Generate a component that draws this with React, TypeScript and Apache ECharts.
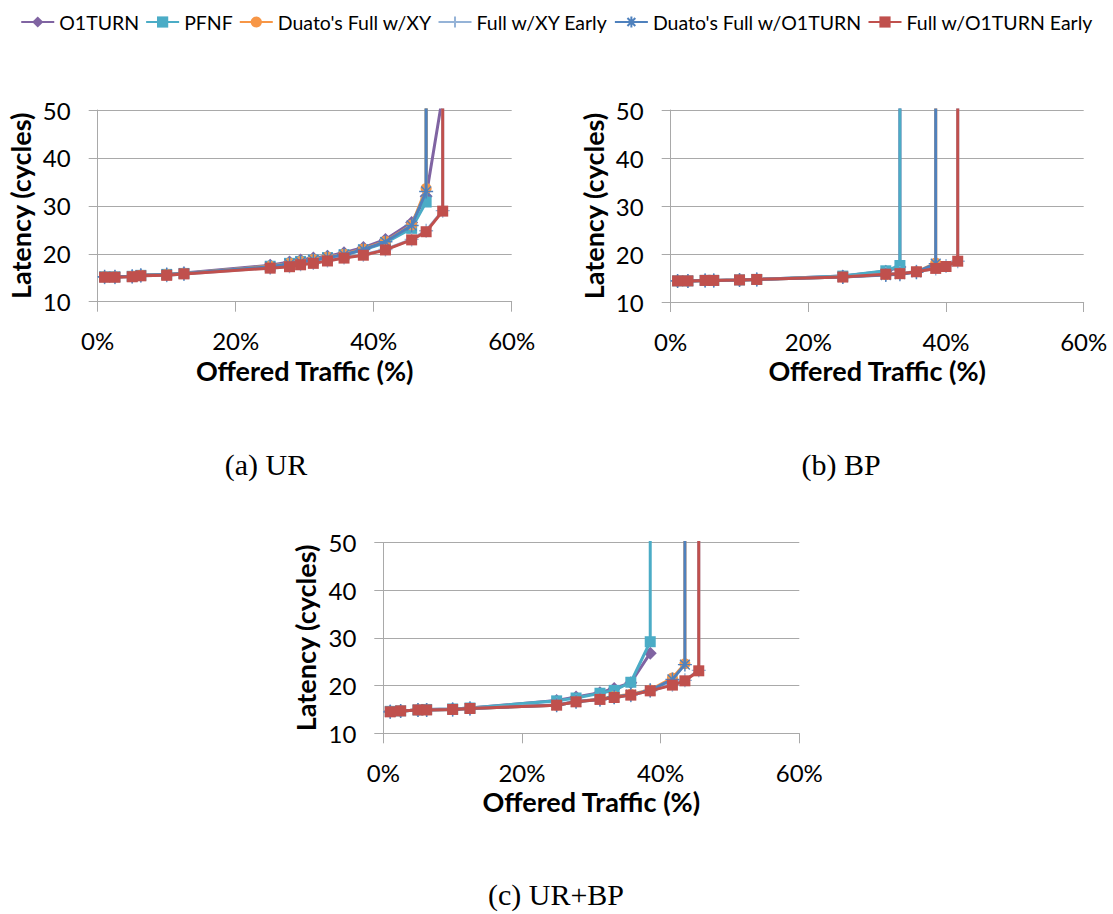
import React, { useEffect, useRef } from "react";
import * as echarts from "echarts";

// ---------- DATA ----------
const SERIES_NAMES = [
  "O1TURN",
  "PFNF",
  "Duato's Full w/XY",
  "Full w/XY Early",
  "Duato's Full w/O1TURN",
  "Full w/O1TURN Early",
];

const X_TICKS = [0, 20, 40, 60];
const Y_TICKS = [10, 20, 30, 40, 50];
const SATURATED_LATENCY = 1000; // latency beyond the plot (vertical rise)

// (a) UR
const X_UR = [1, 2.5, 5, 6.25, 10, 12.5, 25, 27.8, 29.4, 31.25, 33.3, 35.7, 38.5, 41.7, 45.5, 47.6, 50];
const UR_O1TURN = [15.2, 15.2, 15.3, 15.5, 15.7, 16.0, 17.6, 18.3, 18.7, 19.1, 19.5, 20.2, 21.3, 23.0, 26.5, 32.0, 53];
const UR_PFNF = [15.2, 15.2, 15.3, 15.5, 15.7, 15.9, 17.4, 18.0, 18.4, 18.7, 19.2, 19.8, 20.8, 22.3, 25.3, 30.8, null];
const UR_DUATO_XY = [15.2, 15.2, 15.3, 15.5, 15.7, 15.9, 17.4, 18.0, 18.4, 18.8, 19.3, 19.9, 21.0, 22.6, 26.0, 33.6, null];
const UR_XY_EARLY = [15.1, 15.1, 15.2, 15.4, 15.5, 15.8, 17.1, 17.4, 17.8, 18.1, 18.6, 19.2, 19.8, 20.9, 23.0, 24.8, 29.0];
const UR_DUATO_O1 = [15.2, 15.2, 15.3, 15.5, 15.7, 15.9, 17.3, 17.9, 18.3, 18.7, 19.2, 19.8, 20.9, 22.5, 25.9, 33.0, null];
const UR_O1_EARLY = [15.1, 15.1, 15.2, 15.4, 15.5, 15.8, 17.0, 17.3, 17.7, 18.0, 18.5, 19.1, 19.7, 20.8, 22.9, 24.6, 28.9];
const UR_SATURATION = [null, 47.6, 47.6, 50, 47.6, 50];

// (b) BP
const X_BP = [1, 2.5, 5, 6.25, 10, 12.5, 25, 31.25, 33.3, 35.7, 38.5, 40, 41.7];
const BP_O1TURN = [14.4, 14.4, 14.5, 14.5, 14.6, 14.7, 15.4, 16.4, 17.3, null, null, null, null];
const BP_PFNF = [14.4, 14.4, 14.5, 14.5, 14.6, 14.7, 15.4, 16.5, 17.6, null, null, null, null];
const BP_DUATO_XY = [14.4, 14.4, 14.5, 14.5, 14.6, 14.7, 15.2, 15.7, 15.9, 16.3, 18.1, null, null];
const BP_XY_EARLY = [14.4, 14.4, 14.5, 14.5, 14.6, 14.7, 15.2, 15.8, 16.0, 16.3, 17.0, 17.5, 18.5];
const BP_DUATO_O1 = [14.4, 14.4, 14.5, 14.5, 14.6, 14.7, 15.2, 15.6, 15.8, 16.2, 18.0, null, null];
const BP_O1_EARLY = [14.4, 14.4, 14.5, 14.5, 14.6, 14.7, 15.2, 15.8, 15.9, 16.3, 17.0, 17.4, 18.5];
const BP_SATURATION = [33.3, 33.3, 38.5, 41.7, 38.5, 41.7];

// (c) UR+BP
const X_UB = [1, 2.5, 5, 6.25, 10, 12.5, 25, 27.8, 31.25, 33.3, 35.7, 38.5, 41.7, 43.5, 45.5];
const UB_O1TURN = [14.6, 14.7, 14.9, 15.0, 15.1, 15.3, 16.9, 17.6, 18.5, 19.4, 20.6, 26.8, null, null, null];
const UB_PFNF = [14.6, 14.7, 14.9, 15.0, 15.1, 15.3, 16.8, 17.4, 18.4, 19.0, 20.7, 29.2, null, null, null];
const UB_DUATO_XY = [14.5, 14.7, 14.9, 14.9, 15.0, 15.2, 15.9, 16.6, 17.2, 17.7, 18.2, 19.1, 21.6, 24.6, null];
const UB_XY_EARLY = [14.5, 14.7, 14.9, 14.9, 15.0, 15.2, 16.0, 16.7, 17.1, 17.5, 18.0, 18.9, 20.2, 21.1, 23.2];
const UB_DUATO_O1 = [14.5, 14.7, 14.9, 14.9, 15.0, 15.2, 15.9, 16.6, 17.1, 17.6, 18.1, 19.0, 21.3, 24.4, null];
const UB_O1_EARLY = [14.5, 14.7, 14.9, 14.9, 15.0, 15.2, 15.9, 16.6, 17.1, 17.5, 18.0, 18.9, 20.1, 21.0, 23.1];
const UB_SATURATION = [null, 38.5, 43.5, 45.5, 43.5, 45.5];

const PANELS = [
  { caption: "(a) UR", x: X_UR, ys: [UR_O1TURN, UR_PFNF, UR_DUATO_XY, UR_XY_EARLY, UR_DUATO_O1, UR_O1_EARLY], sat: UR_SATURATION },
  { caption: "(b) BP", x: X_BP, ys: [BP_O1TURN, BP_PFNF, BP_DUATO_XY, BP_XY_EARLY, BP_DUATO_O1, BP_O1_EARLY], sat: BP_SATURATION },
  { caption: "(c) UR+BP", x: X_UB, ys: [UB_O1TURN, UB_PFNF, UB_DUATO_XY, UB_XY_EARLY, UB_DUATO_O1, UB_O1_EARLY], sat: UB_SATURATION },
];

// ---------- STYLE ----------
const COLORS = ["#8064A2", "#4BACC6", "#F79646", "#95B3D7", "#4F81BD", "#C0504D"];
const STAR = "path://M0,5L10,5M5,0L5,10M1.5,1.5L8.5,8.5M8.5,1.5L1.5,8.5";
const PLUS = "path://M0,5L10,5M5,0L5,10";
const SYMBOLS = ["diamond", "rect", "circle", PLUS, STAR, "rect"];
const SYMBOL_SIZES = [13, 11, 11, 14, 14, 11];
const IS_STROKE_SYMBOL = [false, false, false, true, true, false];

const GRIDS = [
  { left: 97.7, top: 110, width: 414, height: 191.7 },
  { left: 670.7, top: 110, width: 413, height: 192 },
  { left: 383.3, top: 542.5, width: 416, height: 190.8 },
];
const CAPTION_POS = [
  [266, 464],
  [841, 464],
  [556, 894],
];

const FONT = "Lato, 'Noto Sans', sans-serif";
const GRID_COLOR = "#a9a9a9";

export default function App() {
  const ref = useRef<HTMLDivElement>(null);
  useEffect(() => {
    if (!ref.current) return;
    const chart = echarts.init(ref.current, null, { renderer: "svg" });

    const series: any[] = [];
    PANELS.forEach((p, g) => {
      SERIES_NAMES.forEach((name, s) => {
        const pts: any[] = [];
        p.x.forEach((xv, i) => {
          const yv = p.ys[s][i];
          if (yv !== null && yv !== undefined) pts.push([xv, yv]);
        });
        if (p.sat[s] !== null) pts.push([p.sat[s], SATURATED_LATENCY]);
        series.push({
          type: "line",
          name,
          xAxisIndex: g,
          yAxisIndex: g,
          data: pts,
          clip: true,
          symbol: SYMBOLS[s],
          symbolSize: SYMBOL_SIZES[s],
          showAllSymbol: true,
          lineStyle: { color: COLORS[s], width: 3 },
          itemStyle: {
            color: COLORS[s],
            borderColor: COLORS[s],
            borderWidth: IS_STROKE_SYMBOL[s] ? 1.4 : 0,
          },
          emphasis: { disabled: true },
          z: 2 + s,
        });
      });
    });

    const xAxes = GRIDS.map((_, g) => ({
      type: "value",
      gridIndex: g,
      min: 0,
      max: 60,
      interval: 20,
      name: "Offered Traffic (%)",
      nameLocation: "middle",
      nameGap: 55,
      nameTextStyle: { fontFamily: FONT, fontWeight: "bold", fontSize: 27, color: "#000" },
      axisLine: { show: true, onZero: false, lineStyle: { color: GRID_COLOR, width: 1 } },
      axisTick: { show: true, inside: false, length: 10, lineStyle: { color: GRID_COLOR } },
      axisLabel: {
        fontFamily: FONT,
        fontSize: 24,
        color: "#000",
        margin: 27,
        formatter: (v: number) => (X_TICKS.includes(v) ? v + "%" : ""),
      },
      splitLine: { show: false },
    }));

    const yAxes = GRIDS.map((_, g) => ({
      type: "value",
      gridIndex: g,
      min: 10,
      max: 50,
      interval: 10,
      name: "Latency (cycles)",
      nameLocation: "middle",
      nameRotate: 90,
      nameGap: 64,
      nameTextStyle: { fontFamily: FONT, fontWeight: "bold", fontSize: 27, color: "#000" },
      axisLine: { show: true, lineStyle: { color: GRID_COLOR, width: 1 } },
      axisTick: { show: true, inside: false, length: 9, lineStyle: { color: GRID_COLOR } },
      axisLabel: {
        fontFamily: FONT,
        fontSize: 24,
        color: "#000",
        margin: 27,
        formatter: (v: number) => (Y_TICKS.includes(v) ? String(v) : ""),
      },
      splitLine: { show: true, lineStyle: { color: GRID_COLOR, width: 1 } },
    }));

    chart.setOption({
      animation: false,
      backgroundColor: "#ffffff",
      legend: {
        data: SERIES_NAMES,
        top: 7,
        left: "center",
        itemWidth: 33,
        itemHeight: 14,
        itemGap: 6,
        textStyle: { fontFamily: FONT, fontSize: 19.5, color: "#000" },
        selectedMode: false,
      },
      grid: GRIDS.map((g) => ({ ...g, containLabel: false })),
      xAxis: xAxes,
      yAxis: yAxes,
      series,
      graphic: PANELS.map((p, g) => ({
        type: "text",
        x: CAPTION_POS[g][0],
        y: CAPTION_POS[g][1],
        style: {
          text: p.caption,
          font: "30px 'Liberation Serif', 'Times New Roman', serif",
          fill: "#000",
          textAlign: "center",
          textVerticalAlign: "middle",
        },
      })),
    });
    return () => chart.dispose();
  }, []);

  return (
    <div
      ref={ref}
      style={{ position: "fixed", left: 0, top: 0, width: 1113, height: 914, background: "#fff" }}
    />
  );
}
